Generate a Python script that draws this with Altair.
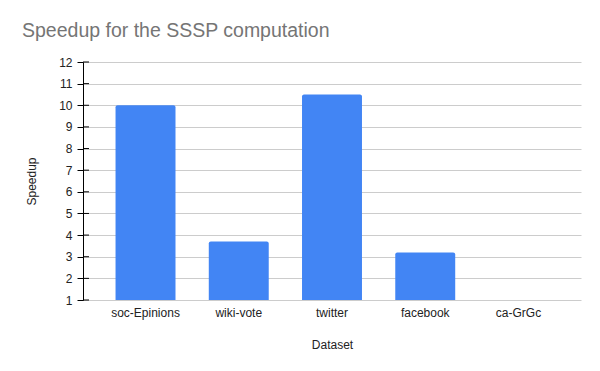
import altair as alt
import pandas as pd

datasets = ["soc-Epinions", "wiki-vote", "twitter", "facebook", "ca-GrGc"]
speedups = [10.0, 3.7, 10.5, 3.2, 1.0]
y_ticks = list(range(1, 13))

df = pd.DataFrame({"Dataset": datasets, "Speedup": speedups})
ticks_df = pd.DataFrame({"Speedup": y_ticks})

FONT = "Liberation Sans"

y_axis = alt.Axis(
    values=y_ticks, title="Speedup", grid=True, gridColor="#cccccc",
    domain=True, domainColor="#000000", ticks=True, tickColor="#000000",
    tickSize=6, labelPadding=5, titlePadding=20,
)
y_scale = alt.Scale(domain=[1, 12], nice=False, zero=False)

bars = alt.Chart(df).mark_bar(
    color="#4285F4", cornerRadiusTopLeft=2, cornerRadiusTopRight=2
).encode(
    x=alt.X(
        "Dataset:N",
        sort=datasets,
        scale=alt.Scale(paddingInner=0.357, paddingOuter=0.349),
        axis=alt.Axis(
            title="Dataset", labelAngle=0, domain=False, ticks=False,
            labelPadding=7, titlePadding=21, grid=False,
        ),
    ),
    y=alt.Y("Speedup:Q", scale=y_scale, axis=y_axis),
    y2=alt.datum(1),
)

tick_right = alt.Chart(ticks_df).mark_rule(color="#000000", strokeWidth=1).encode(
    x=alt.value(0),
    x2=alt.value(6),
    y=alt.Y("Speedup:Q", scale=y_scale, axis=y_axis),
)

chart = alt.layer(bars, tick_right).properties(
    width=498,
    height=238,
    title=alt.TitleParams(
        "Speedup for the SSSP computation",
        anchor="start", frame="group", dx=-61, fontSize=19.5, font=FONT,
        fontWeight="normal", color="#757575", offset=15,
    ),
    autosize="none",
    padding={"left": 75, "top": 54, "right": 10, "bottom": 60},
).configure_view(stroke=None).configure_axis(
    labelFont=FONT, titleFont=FONT, labelFontSize=12, titleFontSize=12,
    labelColor="#222222", titleColor="#222222", titleFontWeight="normal",
)

chart.save("out.html", embed_options={"renderer": "svg", "actions": False})
